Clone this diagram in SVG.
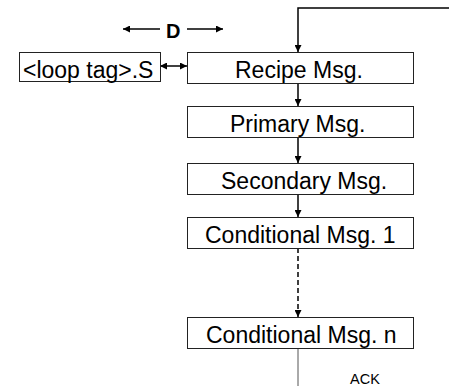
<svg xmlns="http://www.w3.org/2000/svg" width="449" height="386" viewBox="0 0 449 386">
<style>
.box{fill:#fff;stroke:#222;stroke-width:1}
.t{font-family:"Liberation Sans",Arial,sans-serif;font-size:23px;fill:#000}
.ln{fill:none;stroke:#000;stroke-width:1.5}
</style>
<defs>
<marker id="ah" viewBox="0 0 10 10" refX="10" refY="5" markerWidth="7" markerHeight="7" markerUnits="userSpaceOnUse" orient="auto-start-reverse">
<path d="M0,0 L10,5 L0,10 z" fill="#000"/>
</marker>
</defs>
<rect width="449" height="386" fill="#fff"/>
<g id="connectors">
<path class="ln" d="M449,8 H298 V52" marker-end="url(#ah)"/>
<line class="ln" x1="298" y1="83" x2="298" y2="106" marker-end="url(#ah)"/>
<line class="ln" x1="298" y1="137" x2="298" y2="163" marker-end="url(#ah)"/>
<line class="ln" x1="298" y1="194" x2="298" y2="217" marker-end="url(#ah)"/>
<line class="ln" x1="298" y1="248" x2="298" y2="317" stroke-dasharray="5,3" marker-end="url(#ah)"/>
<line x1="298" y1="348" x2="298" y2="386" stroke="#555" stroke-width="1"/>
<line class="ln" x1="160" y1="66" x2="187" y2="66" marker-start="url(#ah)" marker-end="url(#ah)"/>
<line class="ln" x1="160" y1="29" x2="123" y2="29" marker-end="url(#ah)"/>
<line class="ln" x1="187" y1="29" x2="223" y2="29" marker-end="url(#ah)"/>
<text x="166" y="38" font-family="Liberation Sans,Arial,sans-serif" font-size="20" font-weight="bold">D</text>
<text x="350" y="384" font-family="Liberation Sans,Arial,sans-serif" font-size="14.5">ACK</text>
</g>
<g id="loop">
<rect class="box" x="19.5" y="52.5" width="141" height="29"/>
<text class="t" x="23" y="78">&lt;loop tag&gt;.S</text>
</g>
<g id="recipe">
<rect class="box" x="187.5" y="52.5" width="226" height="31"/>
<text class="t" x="235" y="78">Recipe Msg.</text>
</g>
<g id="primary">
<rect class="box" x="187.5" y="106.5" width="226" height="31"/>
<text class="t" x="230" y="132">Primary Msg.</text>
</g>
<g id="secondary">
<rect class="box" x="187.5" y="163.5" width="226" height="31"/>
<text class="t" x="221" y="189">Secondary Msg.</text>
</g>
<g id="cond1">
<rect class="box" x="187.5" y="217.5" width="226" height="31"/>
<text class="t" x="205" y="243">Conditional Msg. 1</text>
</g>
<g id="condn">
<rect class="box" x="187.5" y="317.5" width="226" height="31"/>
<text class="t" x="206" y="343">Conditional Msg. n</text>
</g>
</svg>
